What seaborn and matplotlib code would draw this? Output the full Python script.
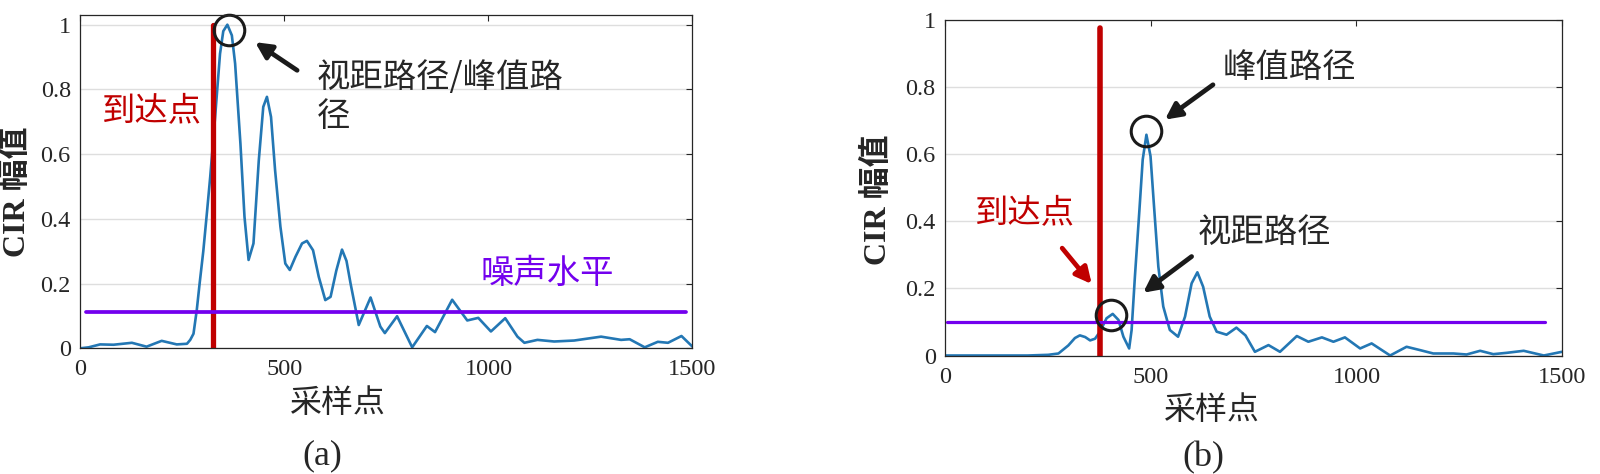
import matplotlib
matplotlib.use('Agg')
import matplotlib.pyplot as plt
import seaborn as sns
from matplotlib.ticker import FormatStrFormatter

# (a) 视距场景 CIR 幅值
sample_a = [0, 20, 48, 81, 126, 162, 199, 236, 261, 269, 277, 285, 292, 301, 310,
            318, 330, 342, 350, 360, 371, 379, 392, 402, 412, 424, 437, 448, 457,
            467, 477, 490, 502, 513, 527, 543, 555, 570, 584, 600, 613, 627, 641,
            652, 662, 682, 711, 735, 746, 776, 813, 849, 869, 911, 948, 975, 1006,
            1041, 1071, 1088, 1120, 1161, 1210, 1276, 1325, 1346, 1383, 1415, 1440,
            1473, 1500]
cir_a = [0.0, 0.003, 0.012, 0.011, 0.017, 0.005, 0.023, 0.012, 0.014, 0.026, 0.045,
         0.118, 0.2, 0.30, 0.42, 0.53, 0.715, 0.91, 0.98, 1.0, 0.967, 0.88, 0.633,
         0.406, 0.273, 0.324, 0.58, 0.746, 0.777, 0.715, 0.55, 0.376, 0.262, 0.242,
         0.283, 0.324, 0.332, 0.303, 0.221, 0.149, 0.159, 0.24, 0.305, 0.27, 0.2,
         0.072, 0.157, 0.067, 0.047, 0.099, 0.003, 0.069, 0.05, 0.15, 0.086, 0.094,
         0.052, 0.093, 0.036, 0.017, 0.026, 0.021, 0.024, 0.036, 0.026, 0.028,
         0.003, 0.02, 0.017, 0.038, 0.005]
arrival_a = 325
noise_a = 0.113
noise_span_a = [13, 1483]
circle_a = [363, 0.985]

# (b) 非视距场景 CIR 幅值
sample_b = [0, 100, 200, 250, 275, 299, 315, 327, 340, 352, 364, 376, 392, 407, 421,
            433, 447, 453, 461, 472, 480, 489, 499, 507, 518, 530, 546, 566, 583,
            599, 613, 627, 643, 660, 684, 708, 730, 753, 786, 814, 855, 883, 916,
            944, 972, 1009, 1037, 1082, 1122, 1155, 1187, 1236, 1268, 1301, 1333,
            1366, 1407, 1456, 1500]
cir_b = [0.0, 0.0, 0.0, 0.002, 0.006, 0.03, 0.052, 0.06, 0.055, 0.045, 0.05, 0.071,
         0.111, 0.124, 0.106, 0.056, 0.021, 0.076, 0.235, 0.434, 0.584, 0.658, 0.594,
         0.454, 0.265, 0.146, 0.076, 0.056, 0.116, 0.215, 0.248, 0.205, 0.116, 0.071,
         0.062, 0.083, 0.06, 0.011, 0.031, 0.011, 0.058, 0.041, 0.054, 0.041, 0.054,
         0.021, 0.036, 0.0, 0.026, 0.016, 0.006, 0.006, 0.003, 0.014, 0.004, 0.008,
         0.014, 0.0, 0.011]
arrival_b = 376
arrival_top_b = 0.975
noise_b = 0.1
noise_span_b = [3, 1460]
circle_peak_b = [487, 0.668]
circle_los_b = [402, 0.12]

x_ticks = [0, 500, 1000, 1500]
y_ticks = [0, 0.2, 0.4, 0.6, 0.8, 1]

BLUE = '#2377b4'
RED = '#c00000'
PURPLE = '#7300ee'
CJK = ['Noto Sans CJK SC', 'DejaVu Sans']
SERIF_CJK = ['Liberation Serif', 'Noto Sans CJK SC']

sns.set_theme(style='white')
plt.rcParams['font.family'] = SERIF_CJK
plt.rcParams['axes.unicode_minus'] = False


def style_axes(ax, ytop):
    """MATLAB 风格坐标轴"""
    ax.set_xlim(0, 1500)
    ax.set_ylim(0, ytop)
    ax.set_xticks(x_ticks)
    ax.set_yticks(y_ticks)
    ax.yaxis.set_major_formatter(FormatStrFormatter('%g'))
    ax.tick_params(direction='in', top=True, right=True, length=4, width=0.8,
                   labelsize=17.5, colors='#262626')
    ax.tick_params(axis='x', pad=8)
    ax.tick_params(axis='y', pad=7)
    ax.yaxis.grid(True, color='#dedede', lw=1)
    ax.xaxis.grid(False)
    for s in ax.spines.values():
        s.set_color('#262626')
        s.set_linewidth(0.9)


def circle(ax, pt):
    ax.plot([pt[0]], [pt[1]], marker='o', ms=22, mfc='none', mec='k', mew=2.2,
            clip_on=False)


def arrow(ax, head, tail, color='k'):
    ax.annotate('', xy=head, xytext=tail,
                arrowprops=dict(arrowstyle='-|>', color=color, lw=3.4,
                                mutation_scale=24, shrinkA=0, shrinkB=0))


fig = plt.figure(figsize=(16, 4.74), dpi=100)
ax_a = fig.add_axes([0.0503, 0.2652, 0.3825, 0.7032])
ax_b = fig.add_axes([0.5909, 0.25, 0.3853, 0.7078])

# ---- (a) ----
sns.lineplot(x=sample_a, y=cir_a, ax=ax_a, color=BLUE, lw=1.9)
ax_a.plot([arrival_a, arrival_a], [0, 1.0], color=RED, lw=3.8)
ax_a.plot(noise_span_a, [noise_a, noise_a], color=PURPLE, lw=2.7)
circle(ax_a, circle_a)
arrow(ax_a, (428, 0.946), (531, 0.859))
style_axes(ax_a, 1.03)
ax_a.text(52, 0.735, '到达点', color=RED, fontsize=24, family=CJK, va='center')
ax_a.text(580, 0.836, '视距路径/峰值路', fontsize=24, family=CJK, va='center')
ax_a.text(580, 0.715, '径', fontsize=24, family=CJK, va='center')
ax_a.text(981, 0.232, '噪声水平', color=PURPLE, fontsize=24, family=CJK, va='center')
ax_a.set_xlabel('采样点', fontsize=23, family=CJK, va='center')
ax_a.xaxis.set_label_coords(0.42, -0.164)
ax_a.set_ylabel('CIR 幅值', fontsize=23, fontweight='bold', va='center')
ax_a.yaxis.set_label_coords(-0.103, 0.469)

# ---- (b) ----
sns.lineplot(x=sample_b, y=cir_b, ax=ax_b, color=BLUE, lw=1.9)
ax_b.plot([arrival_b, arrival_b], [0, arrival_top_b], color=RED, lw=4)
ax_b.plot(noise_span_b, [noise_b, noise_b], color=PURPLE, lw=2.3)
circle(ax_b, circle_peak_b)
circle(ax_b, circle_los_b)
arrow(ax_b, (534, 0.703), (651, 0.807))
arrow(ax_b, (481, 0.187), (599, 0.295))
arrow(ax_b, (356, 0.213), (284, 0.32), color=RED)
style_axes(ax_b, 1.0)
ax_b.text(675, 0.857, '峰值路径', fontsize=24, family=CJK, va='center')
ax_b.text(614, 0.366, '视距路径', fontsize=24, family=CJK, va='center')
ax_b.text(72, 0.427, '到达点', color=RED, fontsize=24, family=CJK, va='center')
ax_b.set_xlabel('采样点', fontsize=23, family=CJK, va='center')
ax_b.xaxis.set_label_coords(0.432, -0.162)
ax_b.set_ylabel('CIR 幅值', fontsize=23, fontweight='bold', va='center')
ax_b.yaxis.set_label_coords(-0.109, 0.463)

fig.text(0.2016, 0.038, '(a)', fontsize=26, ha='center', va='center')
fig.text(0.752, 0.034, '(b)', fontsize=26, ha='center', va='center')

fig.savefig('out.png', dpi=100, facecolor='white')
